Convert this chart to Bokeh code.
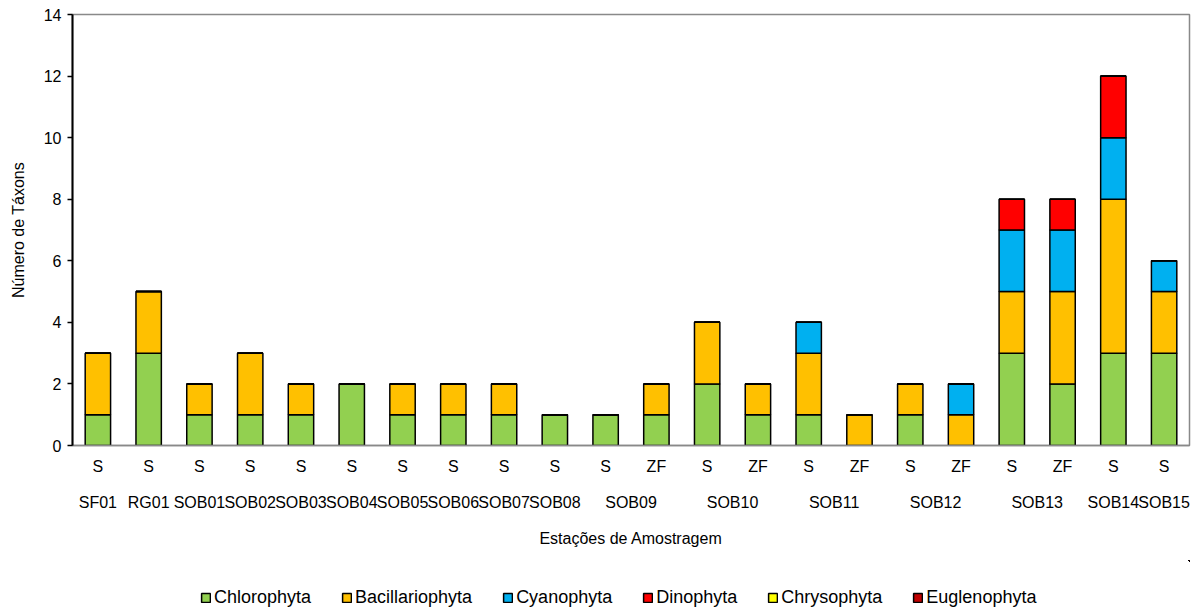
from bokeh.plotting import figure
from bokeh.layouts import column
from bokeh.models import ColumnDataSource, Legend, LegendItem, Range1d, FixedTicker, LinearAxis
from bokeh.embed import file_html
from bokeh.resources import INLINE

stations = ["SF01", "RG01", "SOB01", "SOB02", "SOB03", "SOB04", "SOB05", "SOB06", "SOB07", "SOB08",
            "SOB09", "SOB09", "SOB10", "SOB10", "SOB11", "SOB11", "SOB12", "SOB12", "SOB13", "SOB13",
            "SOB14", "SOB15"]
zones = ["S", "S", "S", "S", "S", "S", "S", "S", "S", "S",
         "S", "ZF", "S", "ZF", "S", "ZF", "S", "ZF", "S", "ZF",
         "S", "S"]

chlorophyta = [1, 3, 1, 1, 1, 2, 1, 1, 1, 1, 1, 1, 2, 1, 1, 0, 1, 0, 3, 2, 3, 3]
bacillariophyta = [2, 2, 1, 2, 1, 0, 1, 1, 1, 0, 0, 1, 2, 1, 2, 1, 1, 1, 2, 3, 5, 2]
cyanophyta = [0, 0, 0, 0, 0, 0, 0, 0, 0, 0, 0, 0, 0, 0, 1, 0, 0, 1, 2, 2, 2, 1]
dinophyta = [0, 0, 0, 0, 0, 0, 0, 0, 0, 0, 0, 0, 0, 0, 0, 0, 0, 0, 1, 1, 2, 0]
chrysophyta = [0] * 22
euglenophyta = [0] * 22

series_names = ["Chlorophyta", "Bacillariophyta", "Cyanophyta", "Dinophyta", "Chrysophyta", "Euglenophyta"]
colors = ["#92D050", "#FFC000", "#00B0F0", "#FF0000", "#FFFF00", "#C00000"]
y_ticks = [0, 2, 4, 6, 8, 10, 12, 14]

# category slots (one per bar) and the centre of each station group
n = len(zones)
slots = [i + 0.5 for i in range(n)]
group_names = []
group_slots = {}
for s, x in zip(stations, slots):
    if s not in group_slots:
        group_names.append(s)
        group_slots[s] = []
    group_slots[s].append(x)
group_centers = [sum(group_slots[g]) / len(group_slots[g]) for g in group_names]

source = ColumnDataSource(data=dict(
    x=slots,
    Chlorophyta=chlorophyta,
    Bacillariophyta=bacillariophyta,
    Cyanophyta=cyanophyta,
    Dinophyta=dinophyta,
    Chrysophyta=chrysophyta,
    Euglenophyta=euglenophyta,
))

FONT = "Liberation Sans"

p = figure(width=1202, height=560, output_backend="svg", toolbar_location=None,
           x_range=Range1d(0, n), y_range=Range1d(0, 14),
           min_border_left=72, min_border_right=13, min_border_top=14, min_border_bottom=115)

renderers = p.vbar_stack(series_names, x="x", width=0.5, source=source, color=colors,
                         line_color="black", line_width=1.5)

p.xgrid.grid_line_color = None
p.ygrid.grid_line_color = None
p.outline_line_color = "#898989"
p.outline_line_width = 1.5

# Y axis
p.yaxis.ticker = FixedTicker(ticks=y_ticks)
p.yaxis.axis_label = "Número de Táxons"
p.yaxis.axis_label_text_font = FONT
p.yaxis.axis_label_text_font_style = "normal"
p.yaxis.axis_label_text_font_size = "16px"
p.yaxis.axis_label_text_color = "black"
p.yaxis.axis_line_color = "black"
p.yaxis.axis_line_width = 2
p.yaxis.major_tick_line_color = "black"
p.yaxis.major_tick_line_width = 1.5
p.yaxis.major_tick_in = 0
p.yaxis.major_tick_out = 5
p.yaxis.minor_tick_line_color = None
p.yaxis.major_label_text_font = FONT
p.yaxis.major_label_text_font_size = "16px"
p.yaxis.major_label_text_color = "black"
p.yaxis.major_label_standoff = 6
p.yaxis.axis_label_standoff = 14

# X axis 1: zone labels (S / ZF)
xa = p.xaxis[0]
xa.ticker = FixedTicker(ticks=slots)
xa.major_label_overrides = {x: z for x, z in zip(slots, zones)}
xa.axis_line_color = "#898989"
xa.axis_line_width = 1.5
xa.major_tick_line_color = None
xa.major_tick_in = 0
xa.major_tick_out = 0
xa.minor_tick_line_color = None
xa.major_label_text_font = FONT
xa.major_label_text_font_size = "16px"
xa.major_label_text_color = "black"
xa.major_label_standoff = 12

# X axis 2: station names
xa2 = LinearAxis(ticker=FixedTicker(ticks=group_centers),
                 major_label_overrides={x: g for x, g in zip(group_centers, group_names)})
xa2.axis_line_color = None
xa2.major_tick_line_color = None
xa2.major_tick_in = 0
xa2.major_tick_out = 0
xa2.minor_tick_line_color = None
xa2.major_label_text_font = FONT
xa2.major_label_text_font_size = "16px"
xa2.major_label_text_color = "black"
xa2.major_label_standoff = 16
xa2.axis_label = "Estações de Amostragem"
xa2.axis_label_text_font = FONT
xa2.axis_label_text_font_style = "normal"
xa2.axis_label_text_font_size = "16px"
xa2.axis_label_text_color = "black"
xa2.axis_label_standoff = 16
p.add_layout(xa2, "below")

# Legend strip below the chart (series glyphs drawn out of view; only their legend swatches show)
p2 = figure(width=1202, height=50, output_backend="svg", toolbar_location=None,
            x_range=Range1d(-100, -99), y_range=Range1d(-100, -99),
            x_axis_type=None, y_axis_type=None,
            min_border_left=0, min_border_right=0, min_border_top=0, min_border_bottom=0)
p2.xgrid.grid_line_color = None
p2.ygrid.grid_line_color = None
p2.outline_line_color = None
proxies = [p2.vbar(x="x", top=nm, width=0.5, source=source, fill_color=c, line_color="black",
                   line_width=1.5) for nm, c in zip(series_names, colors)]

legend = Legend(items=[LegendItem(label=nm, renderers=[r]) for nm, r in zip(series_names, proxies)],
                orientation="horizontal", location=(128, 2))
legend.label_text_font = FONT
legend.label_text_font_size = "18px"
legend.label_text_color = "black"
legend.glyph_width = 11
legend.glyph_height = 11
legend.label_standoff = 3
legend.spacing = 30
legend.border_line_color = None
legend.background_fill_alpha = 0
legend.margin = 0
legend.padding = 0
p2.add_layout(legend, "center")

layout = column(p, p2, spacing=0)

open("out.html", "w").write(file_html(layout, INLINE))
